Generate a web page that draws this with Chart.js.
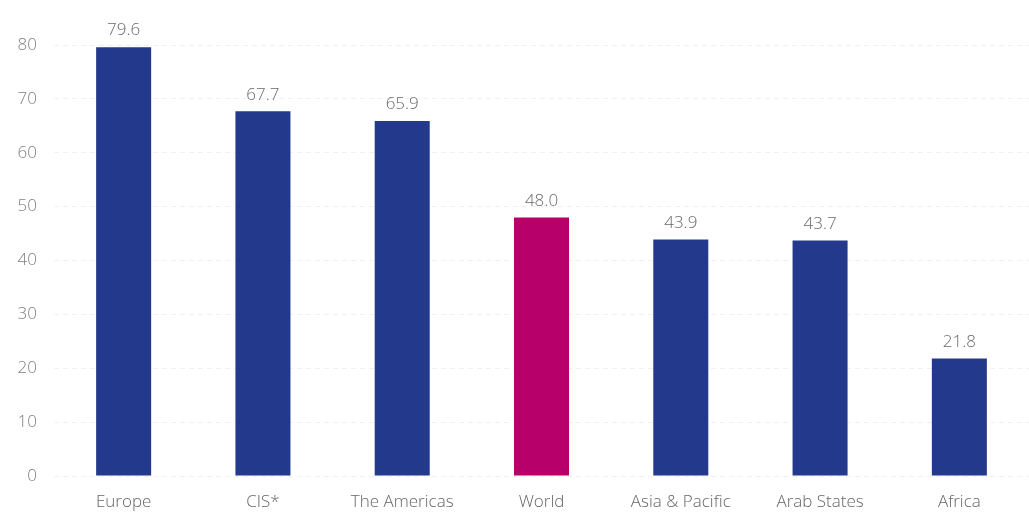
<!DOCTYPE html>
<html>
<head>
<meta charset="utf-8">
<script src="https://cdn.jsdelivr.net/npm/chart.js@4/dist/chart.umd.min.js"></script>
<style>
  html, body { margin: 0; padding: 0; background: #fff; }
  #wrap { width: 1029px; height: 512px; }
</style>
</head>
<body>
<div id="wrap"><canvas id="chart"></canvas></div>
<script>
// Regions and their values
const regions = ['Europe', 'CIS*', 'The Americas', 'World', 'Asia & Pacific', 'Arab States', 'Africa'];
const values = [79.6, 67.7, 65.9, 48.0, 43.9, 43.7, 21.8];
const yTicks = [0, 10, 20, 30, 40, 50, 60, 70, 80];

const navy = '#233a8c';
const magenta = '#b8006b';
const barColors = regions.map(r => r === 'World' ? magenta : navy);

// Draw value labels above the bars
const valueLabels = {
    id: 'valueLabels',
    afterDatasetsDraw(chart) {
        const ctx = chart.ctx;
        const meta = chart.getDatasetMeta(0);
        ctx.save();
        ctx.font = '300 17px "Open Sans", sans-serif';
        ctx.fillStyle = '#6a6a6a';
        ctx.textAlign = 'center';
        ctx.textBaseline = 'bottom';
        meta.data.forEach((bar, i) => {
            ctx.fillText(values[i].toFixed(1), bar.x, bar.y - 8);
        });
        ctx.restore();
    }
};

new Chart(document.getElementById('chart'), {
    type: 'bar',
    data: {
        labels: regions,
        datasets: [{
            data: values,
            backgroundColor: barColors,
            borderWidth: 0,
            barPercentage: 1,
            categoryPercentage: 0.395
        }]
    },
    options: {
        responsive: true,
        maintainAspectRatio: false,
        animation: false,
        layout: { padding: { top: 45, right: 0, left: 0, bottom: 0 } },
        plugins: {
            legend: { display: false },
            tooltip: { enabled: false }
        },
        scales: {
            x: {
                grid: { display: false },
                border: { display: false },
                ticks: {
                    color: '#666',
                    font: { family: '"Open Sans", sans-serif', size: 17, weight: '300' },
                    padding: 8,
                    maxRotation: 0
                },
                afterFit(axis) { axis.height = 36; }
            },
            y: {
                min: 0,
                max: 80,
                afterBuildTicks(axis) { axis.ticks = yTicks.map(v => ({ value: v })); },
                grid: {
                    color: 'rgba(0,0,0,0.06)',
                    drawTicks: false
                },
                border: { display: false, dash: [5, 4] },
                ticks: {
                    color: '#808080',
                    font: { family: '"Open Sans", sans-serif', size: 17, weight: '300' },
                    padding: 17
                },
                afterFit(axis) { axis.width = 54; }
            }
        }
    },
    plugins: [valueLabels]
});
</script>
</body>
</html>
